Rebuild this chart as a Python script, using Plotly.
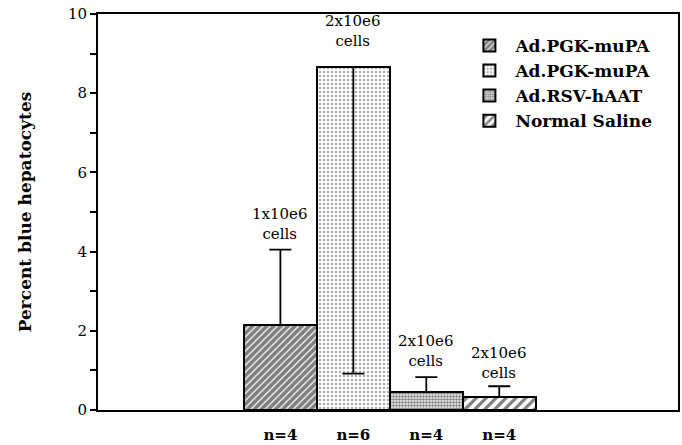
import plotly.graph_objects as go

# Data
groups = ["Ad.PGK-muPA", "Ad.PGK-muPA", "Ad.RSV-hAAT", "Normal Saline"]
n_labels = ["n=4", "n=6", "n=4", "n=4"]
values = [2.15, 8.66, 0.45, 0.33]
err_plus = [1.90, 0.0, 0.38, 0.27]
err_minus = [0.0, 7.74, 0.0, 0.0]
dose_labels = ["1x10e6<br>cells", "2x10e6<br>cells", "2x10e6<br>cells", "2x10e6<br>cells"]
y_ticks = list(range(0, 11))
y_ticktext = [str(v) if v % 2 == 0 else "" for v in y_ticks]

patterns = [
    dict(shape="/", fgcolor="black", bgcolor="white", size=5, solidity=0.75),
    dict(shape=".", fgcolor="#555555", bgcolor="white", size=4, solidity=0.3),
    dict(shape=".", fgcolor="black", bgcolor="white", size=3, solidity=0.6),
    dict(shape="/", fgcolor="black", bgcolor="white", size=7, solidity=0.45),
]
label_shift = [5, 15, 5, 2]

SERIF = "DejaVu Serif"

fig = go.Figure()
for i in range(4):
    fig.add_trace(go.Bar(
        x=[i], y=[values[i]], width=1, name=groups[i],
        marker=dict(color="white", line=dict(color="black", width=2), pattern=patterns[i]),
        error_y=dict(type="data", symmetric=False, array=[err_plus[i]], arrayminus=[err_minus[i]],
                     color="black", thickness=1.8, width=11),
    ))
    top = values[i] + err_plus[i]
    fig.add_annotation(x=i, y=top, text=dose_labels[i], showarrow=False, yanchor="bottom",
                       yshift=label_shift[i], font=dict(family=SERIF, size=15, color="black"))

fig.update_layout(
    width=682, height=445,
    margin=dict(l=98, r=4, t=14, b=35),
    plot_bgcolor="white", paper_bgcolor="white",
    bargap=0,
    font=dict(family=SERIF, color="black"),
    legend=dict(x=0.63, y=0.965, xanchor="left", yanchor="top",
                font=dict(family=SERIF, size=17, color="black", weight="bold"),
                itemwidth=42, tracegroupgap=7, bgcolor="rgba(0,0,0,0)"),
    showlegend=True,
)
fig.update_xaxes(range=[-2.5, 5.45], tickvals=[0, 1, 2, 3], ticktext=n_labels,
                 ticks="", showline=True, linecolor="black", linewidth=2, mirror=True,
                 showgrid=False, zeroline=False, ticklabelstandoff=10, automargin=False,
                 tickfont=dict(family=SERIF, size=15, color="black", weight="bold"))
fig.update_yaxes(range=[0, 10], tickvals=y_ticks, ticktext=y_ticktext,
                 ticks="outside", ticklen=6, tickwidth=1.5, tickcolor="black",
                 showline=True, linecolor="black", linewidth=2, mirror=True,
                 showgrid=False, zeroline=False, automargin=False,
                 tickfont=dict(family=SERIF, size=15, color="black"),
                 title=dict(text="Percent blue hepatocytes", standoff=32,
                            font=dict(family=SERIF, size=17, color="black", weight="bold")))

fig.write_html("out.html", config={"displayModeBar": False},
               post_script="document.body.style.margin='0';")
